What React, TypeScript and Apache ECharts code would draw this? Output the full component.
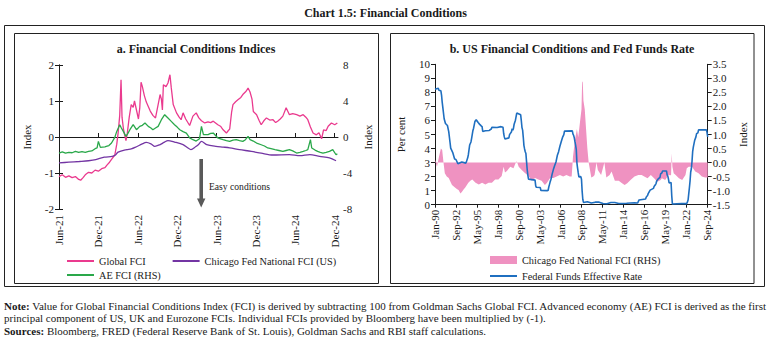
import React, { useEffect, useRef } from "react";
import * as echarts from "echarts";

// ---------- Panel a: months since 1 Jun 2021 ----------
const leftTickLabels = ["Jun-21", "Dec-21", "Jun-22", "Dec-22", "Jun-23", "Dec-23", "Jun-24", "Dec-24"];

const globalFci: [number, number][] = [
  [0, -1.1], [0.5, -1.05], [1, -1.12], [1.5, -1.08], [2, -1.13], [2.5, -1.1], [3, -1.18], [3.3, -1.2],
  [3.7, -1.12], [4, -1.05], [4.5, -0.98], [5, -1.0], [5.5, -0.92], [6, -0.95], [6.5, -0.88], [7, -0.85],
  [7.3, -0.78], [7.7, -0.7], [8, -0.62], [8.5, -0.5], [8.8, -0.2], [9.0, 0.1], [9.25, 0.6], [9.45, 1.59],
  [9.6, 0.55], [9.8, 0.25], [10, 0.05], [10.2, -0.1], [10.4, 0.1], [10.7, 0.55], [11, 0.9], [11.3, 0.82],
  [11.5, 1.0], [11.8, 0.75], [12.1, 0.5], [12.3, 0.8], [12.5, 1.52], [12.7, 1.4], [13, 1.15], [13.3, 0.97],
  [13.6, 0.85], [13.9, 0.72], [14.3, 0.6], [14.7, 0.53], [15.1, 0.9], [15.4, 1.18], [15.6, 1.05], [15.75, 0.75],
  [15.9, 1.45], [16.3, 1.4], [16.6, 1.5], [16.9, 1.73], [17.1, 1.37], [17.4, 0.9], [17.9, 0.67], [18.3, 0.55],
  [18.6, 0.48], [18.9, 0.67], [19.3, 0.5], [19.9, 0.32], [20.4, 0.58], [20.9, 0.67], [21.3, 0.53], [21.7, 0.45],
  [22.2, 0.39], [22.7, 0.42], [23.1, 0.4], [23.5, 0.44], [24.2, 0.34], [24.6, 0.3], [25, 0.2], [25.5, 0.11],
  [25.8, 0.18], [26, 0.22], [26.3, 0.7], [26.5, 0.9], [26.9, 0.98], [27.3, 1.04], [27.7, 1.1], [28, 1.18],
  [28.5, 1.27], [28.8, 1.36], [29.1, 1.25], [29.4, 1.05], [29.6, 0.71], [30.1, 0.62], [30.5, 0.45], [30.8, 0.34],
  [31.2, 0.45], [31.6, 0.53], [32.1, 0.47], [32.6, 0.48], [33, 0.4], [33.3, 0.44], [33.7, 0.5], [34.1, 0.58],
  [34.6, 0.81], [35.1, 0.62], [35.6, 0.65], [36.2, 0.62], [36.7, 0.58], [37.2, 0.62], [37.6, 0.55], [37.9, 0.48],
  [38.3, 0.28], [38.7, 0.11], [39.2, 0.06], [39.6, 0.12], [40, -0.05], [40.3, 0.2], [40.7, 0.18], [41, 0.3],
  [41.5, 0.39], [42, 0.34], [42.4, 0.39],
];

const aeFci: [number, number][] = [
  [0, -1.78], [0.5, -1.65], [1, -1.8], [1.5, -1.7], [2, -1.75], [2.5, -1.6], [3, -1.72], [3.5, -1.62],
  [4, -1.7], [4.5, -1.6], [5, -1.55], [5.5, -1.3], [5.8, -1.22], [6.0, -0.49], [6.3, -1.15], [7, -1.1],
  [7.2, -1.05], [7.6, -0.95], [8, -0.67], [8.5, -0.04], [8.8, 0.62], [9.25, 1.37], [9.5, 1.0], [9.8, 0.62],
  [10.2, 0.07], [10.5, 0.4], [10.8, 0.81], [11.3, 1.37], [11.8, 0.81], [12.3, 1.18], [12.7, 1.3], [13.1, 1.56],
  [13.6, 1.18], [14, 1.0], [14.3, 0.81], [14.7, 1.0], [15.1, 1.18], [15.6, 1.92], [16.1, 2.48], [16.6, 2.11],
  [17.1, 1.74], [17.6, 1.37], [18.0, 1.1], [18.4, 0.81], [18.9, 0.6], [19.4, 0.44], [19.9, -0.1], [20.4, -0.3],
  [20.9, -0.45], [21.4, -0.2], [21.7, 1.18], [22, 0.26], [22.7, 0.26], [23.1, 0.4], [23.5, 0.44], [24.2, -0.11],
  [24.6, -0.2], [25, -0.3], [25.5, -0.4], [26, -0.49], [26.5, -0.35], [27, -0.3], [27.5, -0.4], [28, -0.49],
  [28.4, -0.3], [28.8, 0.07], [29.1, -0.3], [29.6, -0.45], [30.1, -0.67], [30.8, -0.86], [31.3, -1.0], [31.8, -1.22],
  [32.3, -1.3], [32.9, -1.41], [33.5, -1.5], [34.1, -1.6], [34.6, -1.5], [35.1, -1.41], [35.6, -1.55], [36.2, -1.78],
  [36.7, -1.7], [37.2, -1.6], [37.6, -1.5], [37.9, -1.41], [38.3, -0.3], [38.5, -1.22], [39, -1.45], [39.4, -1.6],
  [39.8, -1.7], [40.2, -1.78], [40.7, -1.7], [41.2, -1.6], [41.7, -1.41], [42.2, -1.97], [42.4, -1.85],
];

const chicagoFciUS: [number, number][] = [
  [0, -0.72], [1.5, -0.7], [3.1, -0.68], [4.5, -0.66], [5.6, -0.63], [6.9, -0.56], [8.1, -0.54], [8.6, -0.5],
  [9, -0.42], [10.3, -0.35], [11, -0.33], [11.8, -0.27], [12.6, -0.2], [13.3, -0.15], [14, -0.19], [14.6, -0.26],
  [15.4, -0.21], [16, -0.15], [16.6, -0.1], [17.6, -0.14], [18.9, -0.21], [19.6, -0.3], [20.1, -0.35], [20.8, -0.27],
  [21.3, -0.2], [21.7, -0.12], [22.5, -0.21], [23.9, -0.26], [25, -0.28], [26, -0.3], [27.5, -0.35], [29.3, -0.4],
  [30.8, -0.45], [32.6, -0.5], [35.1, -0.49], [36.7, -0.52], [38.2, -0.49], [39.7, -0.54], [41.2, -0.58], [42.2, -0.66],
];

// ---------- Panel b: monthly ----------
const rightTickLabels = ["Jan-90", "Sep-92", "May-95", "Jan-98", "Sep-00", "May-03", "Jan-06", "Sep-08", "May-11", "Jan-14", "Sep-16", "May-19", "Jan-22", "Sep-24"];

const fedFunds: [string, number][] = [
  ["1990-01", 8.23], ["1990-06", 8.29], ["1990-07", 8.15], ["1990-10", 8.11], ["1990-11", 7.81], ["1990-12", 7.31],
  ["1991-01", 6.91], ["1991-03", 6.12], ["1991-05", 5.78], ["1991-08", 5.64], ["1991-10", 5.21], ["1991-12", 4.43],
  ["1992-01", 4.03], ["1992-04", 3.73], ["1992-07", 3.25], ["1992-09", 3.22], ["1992-12", 2.92], ["1993-06", 3.04],
  ["1993-12", 2.96], ["1994-01", 3.05], ["1994-03", 3.34], ["1994-04", 3.56], ["1994-06", 4.25], ["1994-08", 4.47],
  ["1994-09", 4.73], ["1994-11", 5.29], ["1994-12", 5.45], ["1995-02", 5.92], ["1995-04", 6.05], ["1995-07", 5.85],
  ["1995-09", 5.74], ["1995-12", 5.6], ["1996-01", 5.56], ["1996-02", 5.22], ["1996-06", 5.27], ["1996-12", 5.29],
  ["1997-03", 5.39], ["1997-04", 5.51], ["1997-12", 5.5], ["1998-06", 5.56], ["1998-09", 5.51], ["1998-10", 5.07],
  ["1998-11", 4.83], ["1998-12", 4.68], ["1999-06", 4.76], ["1999-07", 4.99], ["1999-10", 5.2], ["1999-11", 5.42],
  ["1999-12", 5.3], ["2000-01", 5.45], ["2000-02", 5.73], ["2000-04", 6.02], ["2000-05", 6.27], ["2000-06", 6.53],
  ["2000-12", 6.4], ["2001-01", 5.98], ["2001-02", 5.49], ["2001-03", 5.31], ["2001-04", 4.8], ["2001-05", 4.21],
  ["2001-06", 3.97], ["2001-07", 3.77], ["2001-08", 3.65], ["2001-09", 3.07], ["2001-10", 2.49], ["2001-11", 2.09],
  ["2001-12", 1.82], ["2002-10", 1.75], ["2002-11", 1.34], ["2002-12", 1.24], ["2003-06", 1.22], ["2003-07", 1.01],
  ["2004-05", 1.0], ["2004-06", 1.03], ["2004-07", 1.26], ["2004-08", 1.43], ["2004-09", 1.61], ["2004-10", 1.76],
  ["2004-11", 1.93], ["2004-12", 2.16], ["2005-02", 2.5], ["2005-04", 2.79], ["2005-06", 3.04], ["2005-08", 3.5],
  ["2005-10", 3.78], ["2005-12", 4.16], ["2006-02", 4.49], ["2006-04", 4.79], ["2006-06", 4.99], ["2006-07", 5.24],
  ["2007-07", 5.26], ["2007-08", 5.02], ["2007-09", 4.94], ["2007-10", 4.76], ["2007-11", 4.49], ["2007-12", 4.24],
  ["2008-01", 3.94], ["2008-02", 2.98], ["2008-03", 2.61], ["2008-04", 2.28], ["2008-05", 1.98], ["2008-08", 2.0],
  ["2008-09", 1.81], ["2008-10", 0.97], ["2008-11", 0.39], ["2008-12", 0.16], ["2009-06", 0.21], ["2009-12", 0.12],
  ["2010-06", 0.18], ["2010-12", 0.18], ["2011-06", 0.09], ["2011-12", 0.07], ["2012-06", 0.16], ["2012-12", 0.16],
  ["2013-06", 0.09], ["2013-12", 0.09], ["2014-06", 0.1], ["2014-12", 0.12], ["2015-06", 0.13], ["2015-11", 0.12],
  ["2015-12", 0.24], ["2016-01", 0.34], ["2016-11", 0.41], ["2016-12", 0.54], ["2017-02", 0.66], ["2017-03", 0.79],
  ["2017-06", 1.04], ["2017-11", 1.16], ["2017-12", 1.3], ["2018-02", 1.42], ["2018-03", 1.51], ["2018-04", 1.69],
  ["2018-06", 1.82], ["2018-09", 1.95], ["2018-10", 2.19], ["2018-12", 2.27], ["2019-01", 2.4], ["2019-07", 2.4],
  ["2019-08", 2.13], ["2019-09", 2.04], ["2019-10", 1.83], ["2019-11", 1.55], ["2020-02", 1.58], ["2020-03", 0.65],
  ["2020-04", 0.05], ["2021-06", 0.08], ["2022-02", 0.08], ["2022-03", 0.2], ["2022-04", 0.33], ["2022-05", 0.77],
  ["2022-06", 1.21], ["2022-07", 1.68], ["2022-08", 2.33], ["2022-09", 2.56], ["2022-10", 3.08], ["2022-11", 3.78],
  ["2022-12", 4.1], ["2023-02", 4.57], ["2023-04", 4.83], ["2023-05", 5.06], ["2023-07", 5.12], ["2023-08", 5.33],
  ["2024-08", 5.33], ["2024-09", 5.13], ["2024-10", 4.83],
];

const chicagoNfci: [string, number][] = [
  ["1990-01", 0.1], ["1990-04", -0.15], ["1990-07", 0.2], ["1990-10", 0.5], ["1990-12", 0.45], ["1991-02", 0.0],
  ["1991-04", -0.38], ["1991-07", -0.5], ["1991-10", -0.55], ["1992-01", -0.7], ["1992-03", -0.8], ["1992-08", -0.9],
  ["1992-11", -0.95], ["1993-01", -0.98], ["1993-04", -1.1], ["1993-06", -1.05], ["1993-09", -0.95], ["1993-11", -0.9],
  ["1994-04", -0.72], ["1994-07", -0.65], ["1994-10", -0.6], ["1995-03", -0.72], ["1995-08", -0.78], ["1996-01", -0.72],
  ["1996-06", -0.78], ["1996-11", -0.72], ["1997-04", -0.72], ["1997-09", -0.6], ["1998-02", -0.6], ["1998-07", -0.48],
  ["1998-10", -0.15], ["1998-12", -0.35], ["1999-03", -0.3], ["1999-08", -0.15], ["2000-01", -0.2], ["2000-04", -0.03],
  ["2000-06", 0.05], ["2000-09", -0.15], ["2001-02", -0.27], ["2001-07", -0.38], ["2001-12", -0.48], ["2002-05", -0.65],
  ["2002-10", -0.55], ["2003-03", -0.6], ["2003-08", -0.65], ["2004-01", -0.8], ["2004-04", -0.73], ["2004-09", -0.55],
  ["2005-02", -0.55], ["2005-07", -0.5], ["2005-12", -0.44], ["2006-05", -0.5], ["2006-10", -0.44], ["2007-03", -0.5],
  ["2007-06", -0.5], ["2007-08", 0.21], ["2007-11", 0.8], ["2008-02", 1.2], ["2008-04", 0.9], ["2008-07", 1.5],
  ["2008-09", 1.9], ["2008-10", 2.9], ["2008-11", 2.85], ["2008-12", 2.2], ["2009-02", 1.9], ["2009-04", 1.2],
  ["2009-06", 0.5], ["2009-08", 0.0], ["2009-10", -0.26], ["2009-12", -0.53], ["2010-03", -0.5], ["2010-05", -0.44],
  ["2010-08", 0.0], ["2010-10", -0.26], ["2011-03", -0.44], ["2011-08", 0.0], ["2011-11", -0.53], ["2012-04", -0.44],
  ["2012-07", -0.32], ["2012-12", -0.65], ["2013-06", -0.65], ["2013-11", -0.74], ["2014-03", -0.8], ["2014-07", -0.74],
  ["2014-12", -0.62], ["2015-06", -0.5], ["2015-12", -0.44], ["2016-05", -0.44], ["2016-09", -0.5], ["2017-02", -0.56],
  ["2017-07", -0.44], ["2017-12", -0.56], ["2018-05", -0.68], ["2018-10", -0.62], ["2018-12", -0.56], ["2019-05", -0.62],
  ["2019-10", -0.44], ["2020-02", -0.45], ["2020-03", 0.33], ["2020-04", -0.15], ["2020-06", -0.38], ["2020-09", -0.44],
  ["2021-02", -0.56], ["2021-07", -0.62], ["2021-12", -0.44], ["2022-02", -0.2], ["2022-05", -0.15], ["2022-10", -0.15],
  ["2023-03", -0.32], ["2023-08", -0.38], ["2024-01", -0.5], ["2024-06", -0.53], ["2024-10", -0.53],
];

const FONT = "Liberation Serif";
const INK = "#1a1a1a";
const PINK = "#ea3a8e";
const GREEN = "#2aa84a";
const PURPLE = "#7335a3";
const BLUE = "#1f6fc0";
const PINK_AREA = "#ef92c1";

const toMonthIndex = (s: string) => {
  const [y, m] = s.split("-").map(Number);
  return (y - 1990) * 12 + (m - 1);
};

export default function App() {
  const ref = useRef<HTMLDivElement>(null);

  useEffect(() => {
    if (!ref.current) return;
    const chart = echarts.init(ref.current, null, { renderer: "svg" });

    const leftTickVals = leftTickLabels.map((_, i) => i * 6);
    const rightTickVals = rightTickLabels.map((_, i) => i * 32);
    const axisText = { fontFamily: FONT, fontSize: 11, color: INK };
    const blackLine = { show: true, lineStyle: { color: INK, width: 1 } };
    const legendText = { fontFamily: FONT, fontSize: 10.3, color: INK };

    const arrowPts = [
      [199.4, 159], [203, 159], [203, 198.5], [205.4, 198.5], [201.2, 207.5], [197, 198.5], [199.4, 198.5],
    ];

    const noteStyle = (text: string, y: number) => ({
      type: "text", x: 4, y,
      style: {
        text, fontFamily: FONT, fontSize: 11, fill: INK, align: "left", verticalAlign: "middle",
        rich: { b: { fontFamily: FONT, fontSize: 11, fontWeight: "bold", fill: INK } },
      },
    });

    const option: any = {
      animation: false,
      backgroundColor: "#fff",
      textStyle: { fontFamily: FONT },
      grid: [
        { left: 59, top: 65, width: 279, height: 144 },
        { left: 435, top: 64.3, width: 272.7, height: 140.4 },
      ],
      xAxis: [
        {
          type: "value", gridIndex: 0, min: 0, max: 42.5, position: "bottom",
          axisLine: { show: false, onZero: false }, axisTick: { show: false }, splitLine: { show: false },
          axisLabel: {
            ...axisText, rotate: 90, margin: 6, customValues: leftTickVals,
            formatter: (v: number) => leftTickLabels[Math.round(v / 6)] ?? "",
          },
        },
        {
          type: "value", gridIndex: 0, min: 0, max: 42.5, position: "bottom",
          axisLine: { show: true, onZero: true, onZeroAxisIndex: 0, lineStyle: { color: INK, width: 1 } },
          axisTick: { show: true, inside: true, length: 4, customValues: leftTickVals.slice(1), lineStyle: { color: INK } },
          axisLabel: { show: false }, splitLine: { show: false },
        },
        {
          type: "value", gridIndex: 1, min: 0, max: 417, position: "bottom",
          axisLine: { ...blackLine, onZero: false },
          axisTick: { show: true, length: 3, customValues: rightTickVals, lineStyle: { color: INK } },
          splitLine: { show: false },
          axisLabel: {
            ...axisText, rotate: 90, margin: 5, customValues: rightTickVals,
            formatter: (v: number) => rightTickLabels[Math.round(v / 32)] ?? "",
          },
        },
      ],
      yAxis: [
        {
          type: "value", gridIndex: 0, position: "left", min: -2, max: 2, interval: 1,
          axisLine: blackLine, axisTick: { show: true, length: 4, lineStyle: { color: INK } }, splitLine: { show: false },
          axisLabel: { ...axisText, margin: 5 },
          name: "Index", nameLocation: "middle", nameGap: 27, nameTextStyle: { ...axisText },
        },
        {
          type: "value", gridIndex: 0, position: "right", min: -8, max: 8, interval: 4,
          axisLine: blackLine, axisTick: { show: true, length: 4, lineStyle: { color: INK } }, splitLine: { show: false },
          axisLabel: { ...axisText, margin: 5 },
          name: "Index", nameLocation: "middle", nameGap: 24, nameTextStyle: { ...axisText },
        },
        {
          type: "value", gridIndex: 1, position: "left", min: 0, max: 10, interval: 1,
          axisLine: blackLine, axisTick: { show: true, length: 4, lineStyle: { color: INK } }, splitLine: { show: false },
          axisLabel: { ...axisText, margin: 5 },
          name: "Per cent", nameLocation: "middle", nameGap: 29, nameTextStyle: { ...axisText },
        },
        {
          type: "value", gridIndex: 1, position: "right", min: -1.5, max: 3.5, interval: 0.5,
          axisLine: blackLine, axisTick: { show: true, length: 4, lineStyle: { color: INK } }, splitLine: { show: false },
          axisLabel: { ...axisText, margin: 5, formatter: (v: number) => v.toFixed(1) },
          name: "Index", nameLocation: "middle", nameGap: 30, nameTextStyle: { ...axisText },
        },
      ],
      legend: [
        {
          left: 62, top: 251, itemWidth: 27, itemHeight: 2, itemGap: 27, textStyle: legendText,
          data: [
            { name: "Global FCI", icon: "rect" },
            { name: "Chicago Fed National FCI (US)", icon: "rect" },
          ],
        },
        {
          left: 62, top: 265, itemWidth: 27, itemHeight: 2, textStyle: legendText,
          data: [{ name: "AE FCI (RHS)", icon: "rect" }],
        },
        {
          left: 485, top: 250, itemWidth: 27, itemHeight: 8, textStyle: legendText,
          data: [{ name: "Chicago Fed National FCI (RHS)", icon: "rect", itemStyle: { color: PINK_AREA } }],
        },
        {
          left: 485, top: 266, itemWidth: 27, itemHeight: 2, textStyle: legendText,
          data: [{ name: "Federal Funds Effective Rate", icon: "rect" }],
        },
      ],
      series: [
        {
          name: "Global FCI", type: "line", xAxisIndex: 0, yAxisIndex: 0, data: globalFci,
          symbol: "none", lineStyle: { color: PINK, width: 1.3 }, itemStyle: { color: PINK },
        },
        {
          name: "Chicago Fed National FCI (US)", type: "line", xAxisIndex: 0, yAxisIndex: 0, data: chicagoFciUS,
          symbol: "none", smooth: 0.3, lineStyle: { color: PURPLE, width: 1.3 }, itemStyle: { color: PURPLE },
        },
        {
          name: "AE FCI (RHS)", type: "line", xAxisIndex: 0, yAxisIndex: 1, data: aeFci,
          symbol: "none", lineStyle: { color: GREEN, width: 1.3 }, itemStyle: { color: GREEN },
        },
        {
          name: "Chicago Fed National FCI (RHS)", type: "line", xAxisIndex: 2, yAxisIndex: 3,
          data: chicagoNfci.map(([d, v]) => [toMonthIndex(d), v]),
          symbol: "none", lineStyle: { width: 0, color: PINK_AREA }, itemStyle: { color: PINK_AREA },
          areaStyle: { color: PINK_AREA, opacity: 1 }, z: 1,
        },
        {
          name: "Federal Funds Effective Rate", type: "line", xAxisIndex: 2, yAxisIndex: 2,
          data: fedFunds.map(([d, v]) => [toMonthIndex(d), v]),
          symbol: "none", lineStyle: { color: BLUE, width: 1.6 }, itemStyle: { color: BLUE }, z: 3,
        },
      ],
      graphic: [
        {
          type: "text", x: 385.5, y: 13,
          style: { text: "Chart 1.5: Financial Conditions", fontFamily: FONT, fontSize: 12, fontWeight: "bold", fill: INK, align: "center", verticalAlign: "middle" },
        },
        { type: "rect", shape: { x: 4.5, y: 25.5, width: 760, height: 261 }, style: { fill: "none", stroke: "#222", lineWidth: 1 } },
        { type: "rect", shape: { x: 14.5, y: 33.5, width: 364, height: 250 }, style: { fill: "none", stroke: "#222", lineWidth: 1 } },
        { type: "rect", shape: { x: 390.5, y: 33.5, width: 363.5, height: 250 }, style: { fill: "none", stroke: "#222", lineWidth: 1 } },
        {
          type: "text", x: 196, y: 48.5,
          style: { text: "a. Financial Conditions Indices", fontFamily: FONT, fontSize: 12, fontWeight: "bold", fill: INK, align: "center", verticalAlign: "middle" },
        },
        {
          type: "text", x: 572, y: 48.5,
          style: { text: "b. US Financial Conditions and Fed Funds Rate", fontFamily: FONT, fontSize: 12, fontWeight: "bold", fill: INK, align: "center", verticalAlign: "middle" },
        },
        { type: "polygon", shape: { points: arrowPts }, style: { fill: "#595959" } },
        {
          type: "text", x: 209, y: 186,
          style: { text: "Easy conditions", fontFamily: FONT, fontSize: 9.6, fill: INK, align: "left", verticalAlign: "middle" },
        },
        noteStyle("{b|Note:} Value for Global Financial Conditions Index (FCI) is derived by subtracting 100 from Goldman Sachs Global FCI. Advanced economy (AE) FCI is derived as the first", 305.5),
        noteStyle("principal component of US, UK and Eurozone FCIs. Individual FCIs provided by Bloomberg have been multiplied by (-1).", 318),
        noteStyle("{b|Sources:} Bloomberg, FRED (Federal Reserve Bank of St. Louis), Goldman Sachs and RBI staff calculations.", 330.5),
      ],
    };

    chart.setOption(option);
    return () => chart.dispose();
  }, []);

  return <div ref={ref} style={{ position: "absolute", left: 0, top: 0, width: 771, height: 343 }} />;
}
